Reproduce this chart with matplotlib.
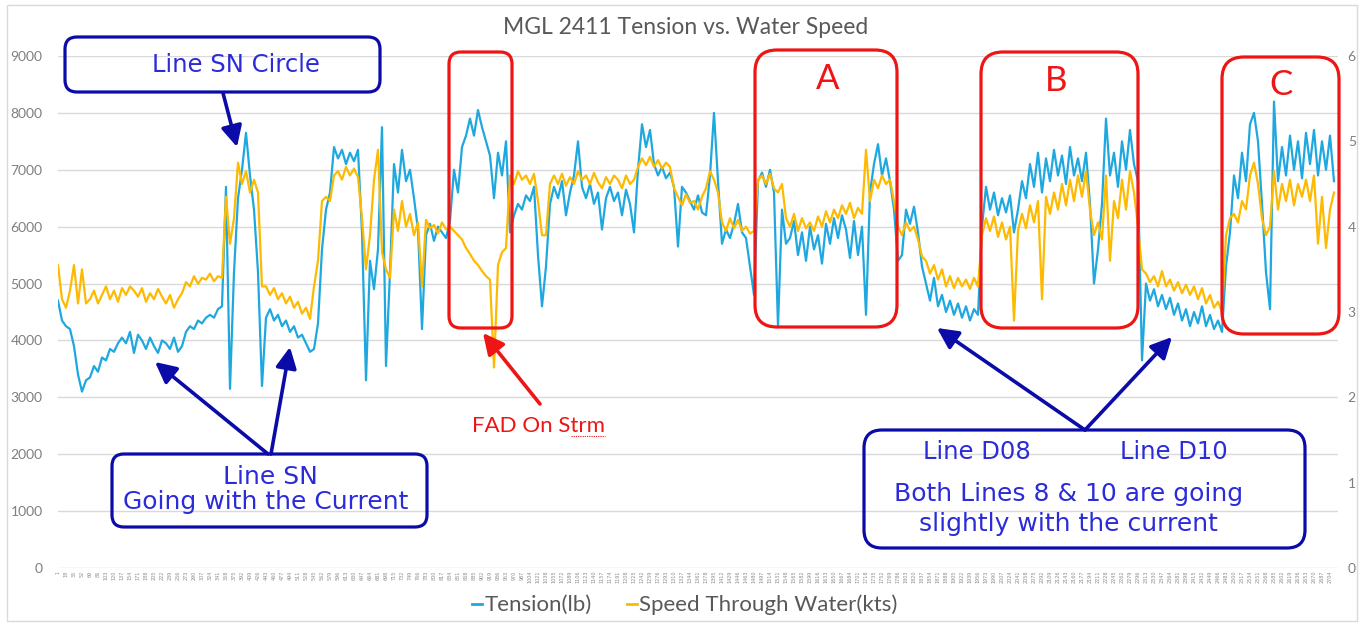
import numpy as np
import matplotlib.pyplot as plt
from matplotlib.lines import Line2D
from matplotlib.patches import FancyBboxPatch, FancyArrowPatch, Rectangle
from matplotlib.transforms import IdentityTransform

# Logged tension (lb), one sample per row of the export
tension = [
    4700, 4350, 4250, 4200, 3900, 3400, 3100, 3300, 3350, 3550,
    3450, 3700, 3650, 3850, 3800, 3950, 4050, 3950, 4150, 3780,
    4100, 4000, 3850, 4050, 3900, 3780, 4000, 3950, 3850, 4050,
    3800, 3900, 4150, 4250, 4200, 4350, 4300, 4400, 4450, 4400,
    4550, 4600, 6700, 3150, 5200, 6500, 7000, 7650, 6900, 6300,
    5200, 3200, 4400, 4550, 4350, 4450, 4250, 4350, 4150, 4250,
    4050, 4100, 3950, 3800, 3850, 4300, 5600, 6300, 6600, 7400,
    7200, 7350, 7100, 7300, 7150, 7350, 5900, 3300, 5400, 4900,
    5600, 7750, 3550, 5200, 7100, 6600, 7350, 6800, 7000, 6500,
    5950, 4200, 5850, 6050, 5750, 6000, 5900, 5800, 6100, 7000,
    6600, 7400, 7600, 7900, 7600, 8050, 7750, 7500, 7250, 6500,
    7300, 6900, 7500, 5900, 6200, 6400, 6300, 6550, 6450, 6700,
    5500, 4600, 5300, 6400, 6700, 6500, 6800, 6200, 6600, 6900,
    7500, 6700, 6500, 6750, 6400, 6600, 5950, 6500, 6700, 6450,
    6600, 6200, 6650, 6400, 5900, 7000, 7800, 7400, 7700, 7100,
    6900, 7050, 6850, 6950, 6700, 5650, 6700, 6600, 6450, 6300,
    6550, 6250, 6200, 6900, 8000, 6800, 5700, 5950, 5800, 6050,
    6400, 5900, 5800, 5300, 4800, 6800, 6950, 6700, 7000, 6600,
    4250, 6300, 5700, 5800, 6100, 5500, 5900, 5400, 6000, 5600,
    5850, 5350, 6050, 5700, 6150, 5800, 6200, 5950, 5450, 6100,
    5500, 6000, 4450, 6600, 7100, 7450, 6900, 7200, 6800, 6300,
    5400, 5500, 6300, 6050, 6350, 5900, 5300, 5000, 4700, 5100,
    4600, 4800, 4500, 4700, 4450, 4650, 4400, 4600, 4350, 4550,
    4450, 6000, 6700, 6300, 6600, 6200, 6500, 6250, 6550, 5900,
    6300, 6800, 6500, 7100, 6700, 7300, 6600, 7200, 6800, 7350,
    6900, 7250, 6750, 7400, 6900, 7200, 6800, 7300, 6400, 5000,
    5600, 6400, 7900, 6900, 7300, 6700, 7500, 7000, 7700, 7100,
    6800, 3650, 5000, 4700, 4900, 4600, 4800, 4550, 4750, 4450,
    4650, 4350, 4550, 4250, 4500, 4300, 4600, 4250, 4450, 4200,
    4350, 4150, 5300, 5900, 6900, 6500, 7300, 6800, 7800, 8000,
    7500, 6400, 5200, 4550, 8200, 6800, 7400, 6900, 7600, 7000,
    7500, 6850, 7650, 7100, 7700, 6900, 7500, 7000, 7600, 6800,
]

# Speed through water (kts) for the same rows
speed = [
    3.55, 3.15, 3.05, 3.25, 3.55, 3.10, 3.50, 3.10, 3.15, 3.25,
    3.10, 3.20, 3.30, 3.15, 3.25, 3.12, 3.28, 3.20, 3.30, 3.25,
    3.18, 3.28, 3.12, 3.22, 3.15, 3.27, 3.18, 3.10, 3.20, 3.05,
    3.15, 3.22, 3.35, 3.30, 3.42, 3.33, 3.40, 3.38, 3.45, 3.36,
    3.42, 3.40, 4.35, 3.80, 4.10, 4.75, 4.50, 4.65, 4.40, 4.55,
    4.40, 3.30, 3.30, 3.20, 3.28, 3.15, 3.22, 3.10, 3.18, 3.05,
    3.12, 2.98, 3.05, 2.92, 3.30, 3.60, 4.30, 4.35, 4.30, 4.60,
    4.65, 4.55, 4.70, 4.60, 4.68, 4.58, 4.10, 3.50, 3.90, 4.55,
    4.90, 3.70, 3.50, 3.40, 4.20, 3.95, 4.30, 4.00, 4.15, 3.90,
    4.05, 3.30, 4.08, 3.98, 4.02, 3.92, 4.05, 3.97, 4.00, 3.95,
    3.90, 3.85, 3.75, 3.68, 3.60, 3.55, 3.48, 3.42, 3.38, 2.35,
    3.55, 3.70, 3.75, 4.60, 4.50, 4.65, 4.55, 4.60, 4.50, 4.62,
    4.30, 3.90, 3.90, 4.50, 4.60, 4.50, 4.62, 4.48, 4.58, 4.50,
    4.65, 4.55, 4.60, 4.50, 4.63, 4.52, 4.45, 4.58, 4.50, 4.60,
    4.55, 4.45, 4.60, 4.50, 4.55, 4.70, 4.80, 4.72, 4.82, 4.70,
    4.78, 4.68, 4.75, 4.70, 4.45, 4.35, 4.25, 4.38, 4.28, 4.30,
    4.20, 4.35, 4.45, 4.65, 4.55, 4.40, 4.05, 3.95, 4.10, 3.98,
    4.08, 3.95, 4.00, 3.92, 3.95, 4.55, 4.60, 4.50, 4.62, 4.45,
    4.40, 4.50, 4.10, 4.00, 4.15, 3.95, 4.10, 3.98, 4.05, 3.95,
    4.12, 4.00, 4.18, 4.05, 4.20, 4.10, 4.25, 4.15, 4.28, 4.10,
    4.22, 4.15, 4.90, 4.30, 4.55, 4.45, 4.60, 4.50, 4.55, 4.30,
    4.00, 3.90, 4.05, 3.95, 4.00, 3.85, 3.65, 3.60, 3.45, 3.55,
    3.38, 3.50, 3.30, 3.42, 3.28, 3.40, 3.30, 3.38, 3.27, 3.40,
    3.30, 3.90, 4.10, 3.95, 4.12, 3.88, 4.05, 3.85, 4.00, 2.90,
    3.95, 4.15, 3.98, 4.25, 4.05, 4.30, 3.15, 4.35, 4.15, 4.40,
    4.20, 4.50, 4.25, 4.55, 4.30, 4.60, 4.35, 4.65, 4.20, 3.90,
    4.05, 3.85, 4.60, 3.60, 4.30, 4.10, 4.55, 4.20, 4.65, 4.40,
    4.00, 3.50, 3.45, 3.35, 3.42, 3.30, 3.48, 3.30, 3.38, 3.25,
    3.35, 3.22, 3.32, 3.20, 3.30, 3.15, 3.28, 3.10, 3.20, 3.05,
    3.12, 3.00, 3.90, 4.10, 4.15, 4.05, 4.30, 4.20, 4.60, 4.75,
    4.50, 4.10, 3.90, 4.00, 4.65, 4.20, 4.50, 4.30, 4.55, 4.25,
    4.50, 4.35, 4.55, 4.30, 4.60, 3.80, 4.35, 3.75, 4.20, 4.40,
]

series_names = ["Tension(lb)", "Speed Through Water(kts)"]
tension_ticks = list(range(0, 9001, 1000))
speed_ticks = list(range(0, 7))

W, H = 1362, 626
BLUE = "#1fa8e0"
GOLD = "#fdba00"
GREY = "#595959"
NAVY = "#0b0ba8"
INK = "#2b2bd9"
RED = "#ee1515"

fig = plt.figure(figsize=(W / 100, H / 100), dpi=100)
ax = fig.add_axes([58 / W, 1 - 568 / H, 1280 / W, 512 / H])
ax2 = ax.twinx()

rows = np.arange(len(tension))
ax.plot(rows, tension, color=BLUE, lw=1.6)
ax2.plot(np.arange(len(speed)), speed, color=GOLD, lw=1.6)

ax.set_xlim(0, len(tension))
ax.set_ylim(0, 9000)
ax2.set_ylim(0, 6)
ax.set_yticks(tension_ticks)
ax2.set_yticks(speed_ticks)
ax.yaxis.grid(True, color="#d9d9d9", lw=1)
ax.set_axisbelow(True)

# dense row-number labels along the category axis
xt = np.arange(0, len(tension), 2)
ax.set_xticks(xt)
ax.set_xticklabels([str(17 * k + 1) for k in range(len(xt))], rotation=90,
                   fontsize=3.5, color="#8c8c8c")
ax.tick_params(axis="x", length=0, pad=2)
ax.tick_params(axis="y", length=0, pad=11, labelsize=10, labelcolor="#7f7f7f")
ax2.tick_params(axis="y", length=0, pad=7, labelsize=10, labelcolor="#7f7f7f")
for a in (ax, ax2):
    for s in a.spines.values():
        s.set_visible(False)
for lab in ax.get_yticklabels() + ax2.get_yticklabels():
    lab.set_family("Lato")

fig.text(686 / W, 1 - 27 / H, "MGL 2411 Tension vs. Water Speed", ha="center",
         va="center", family="Lato", size=16.5, color=GREY)

fig.legend(handles=[Line2D([], [], color=BLUE, lw=2), Line2D([], [], color=GOLD, lw=2)],
           labels=series_names, loc="center", bbox_to_anchor=(685 / W, 1 - 605 / H),
           ncol=2, frameon=False, handlelength=0.45, handletextpad=0.1,
           columnspacing=1.6, prop={"family": "Lato", "size": 16}, labelcolor=GREY)

# annotation layer, in image pixels measured from the top-left corner
pix = IdentityTransform()


def box(x0, y0, x1, y1, color, r=14):
    fig.add_artist(FancyBboxPatch((x0, H - y1), x1 - x0, y1 - y0,
                                  boxstyle=f"round,pad=0,rounding_size={r}",
                                  fill=False, ec=color, lw=2.3, transform=pix))


def arrow(x0, y0, x1, y1, color):
    fig.add_artist(FancyArrowPatch((x0, H - y0), (x1, H - y1),
                                   arrowstyle="-|>,head_length=0.9,head_width=0.45",
                                   mutation_scale=14, lw=2.6, color=color,
                                   shrinkA=0, shrinkB=0, transform=pix))


def label(x, y, s, color, size, family="DejaVu Sans"):
    fig.text(x / W, 1 - y / H, s, ha="center", va="center", color=color,
             size=size, family=family)


fig.add_artist(Rectangle((7, H - 621), 1350, 616, fill=False, ec="#d9d9d9",
                         lw=1, transform=pix))

box(65, 37, 380, 92, NAVY, r=12)
label(236, 65, "Line SN Circle", INK, 17.5)
arrow(223, 93, 237, 147, NAVY)

box(112, 454, 427, 527, NAVY, r=12)
label(270, 477, "Line SN", INK, 18)
label(266, 502, "Going with the Current", INK, 18)
arrow(268, 454, 155, 362, NAVY)
arrow(271, 454, 290, 347, NAVY)

box(449, 52, 512, 328, RED, r=12)
arrow(540, 404, 483, 333, RED)
label(538, 426, "FAD On Strm", RED, 16, family="Lato")
fig.add_artist(Line2D([571, 605], [H - 436, H - 436], color=RED, lw=0.8,
                      ls=(0, (1, 1)), transform=pix))

box(755, 50, 897, 327, RED, r=22)
label(828, 79, "A", RED, 25, family="Lato")
box(981, 52, 1138, 328, RED, r=22)
label(1056, 81, "B", RED, 25, family="Lato")
box(1222, 57, 1339, 334, RED, r=22)
label(1281, 85, "C", RED, 25, family="Lato")

box(864, 430, 1305, 548, NAVY, r=18)
label(977, 452, "Line D08", INK, 17.5)
label(1174, 452, "Line D10", INK, 17.5)
label(1069, 494, "Both Lines 8 & 10 are going", INK, 18)
label(1068, 524, "slightly with the current", INK, 18)
arrow(1085, 430, 937, 328, NAVY)
arrow(1085, 430, 1172, 337, NAVY)

fig.savefig("out.png", dpi=100)
